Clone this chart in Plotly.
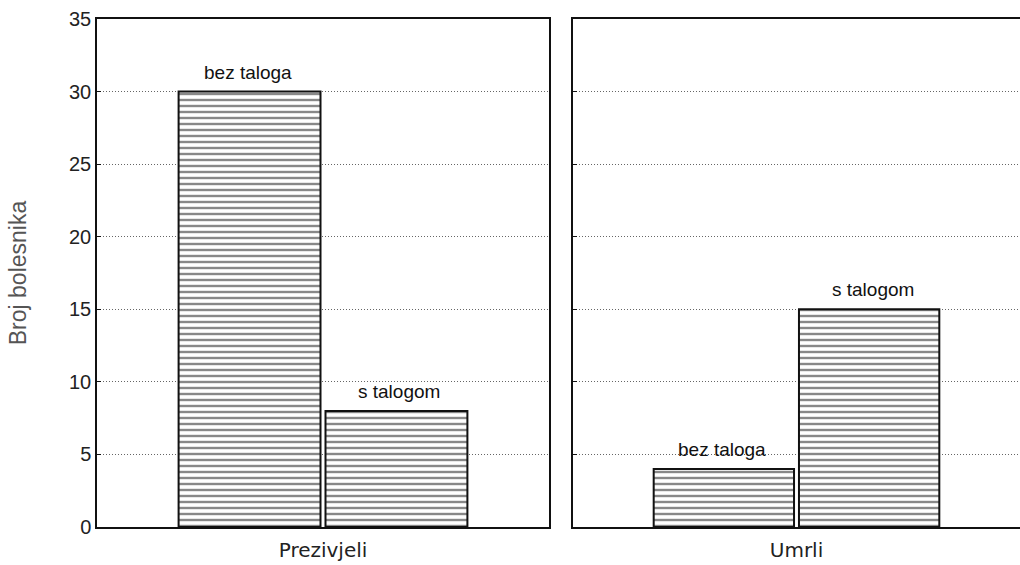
import plotly.graph_objects as go

groups = ["Prezivjeli", "Umrli"]
series_names = ["bez taloga", "s talogom"]
bez_taloga = [30, 4]
s_talogom = [8, 15]
y_ticks = [0, 5, 10, 15, 20, 25, 30, 35]

FONT = "Liberation Sans, Arial, sans-serif"
FONT_X = "DejaVu Sans, Verdana, sans-serif"

fig = go.Figure()
axes = [("x", "y"), ("x2", "y2")]
annotations = []
for i, g in enumerate(groups):
    xa, ya = axes[i]
    for j, (name, vals) in enumerate(zip(series_names, [bez_taloga, s_talogom])):
        fig.add_trace(go.Bar(
            x=[g], y=[vals[i]], name=name,
            cliponaxis=False,
            marker=dict(color="white",
                        line=dict(color="#111", width=2),
                        pattern=dict(shape="-", fgcolor="#111", bgcolor="white",
                                     size=6, solidity=0.4)),
            xaxis=xa, yaxis=ya, showlegend=False,
        ))
        annotations.append(dict(
            x=g, y=vals[i], xref=xa, yref=ya, text=name, showarrow=False,
            xanchor="center", yanchor="bottom", yshift=7,
            xshift=(-75 if j == 0 else 76),
            font=dict(family=FONT, size=19, color="#111")))

axis_common = dict(showline=True, linecolor="#111", linewidth=1.5, mirror=True,
                   automargin=False)
yaxis_common = dict(range=[0, 35], tickvals=y_ticks, showgrid=True,
                    gridcolor="#666", griddash="1px,2px", gridwidth=1,
                    ticks="inside", ticklen=4, tickcolor="#111",
                    zeroline=False, **axis_common)

# light grey vignette at the left edge of the scanned page
shapes = []
for k, op in enumerate([0.10, 0.08, 0.06, 0.05, 0.04, 0.03, 0.02]):
    shapes.append(dict(type="rect", xref="paper", yref="paper",
                       x0=0, x1=(k + 1) * 6 / 1020, y0=0, y1=1,
                       line=dict(width=0),
                       fillcolor=f"rgba(120,120,120,{op})", layer="below"))

fig.update_layout(
    width=1020, height=565,
    margin=dict(l=0, r=0, t=19, b=38),
    paper_bgcolor="white", plot_bgcolor="white",
    barmode="group", bargap=0.35, bargroupgap=0.034,
    font=dict(family=FONT, size=18, color="#222"),
    annotations=annotations,
    xaxis=dict(domain=[97/1020, 549/1020], anchor="y", ticks="",
               ticklabelstandoff=4,
               tickfont=dict(family=FONT_X, size=20, color="#222"), **axis_common),
    xaxis2=dict(domain=[573/1020, 1.0], anchor="y2", ticks="",
                ticklabelstandoff=4,
                tickfont=dict(family=FONT_X, size=20, color="#222"), **axis_common),
    yaxis=dict(anchor="x", tickfont=dict(size=20, color="#222"),
               title=dict(text="Broj bolesnika", standoff=36,
                          font=dict(size=23, color="#555")),
               **yaxis_common),
    yaxis2=dict(anchor="x2", showticklabels=False, **yaxis_common),
)

fig.write_html("out.html",
               config={"displayModeBar": False},
               post_script="document.body.style.margin='0';document.body.style.overflow='hidden';")
